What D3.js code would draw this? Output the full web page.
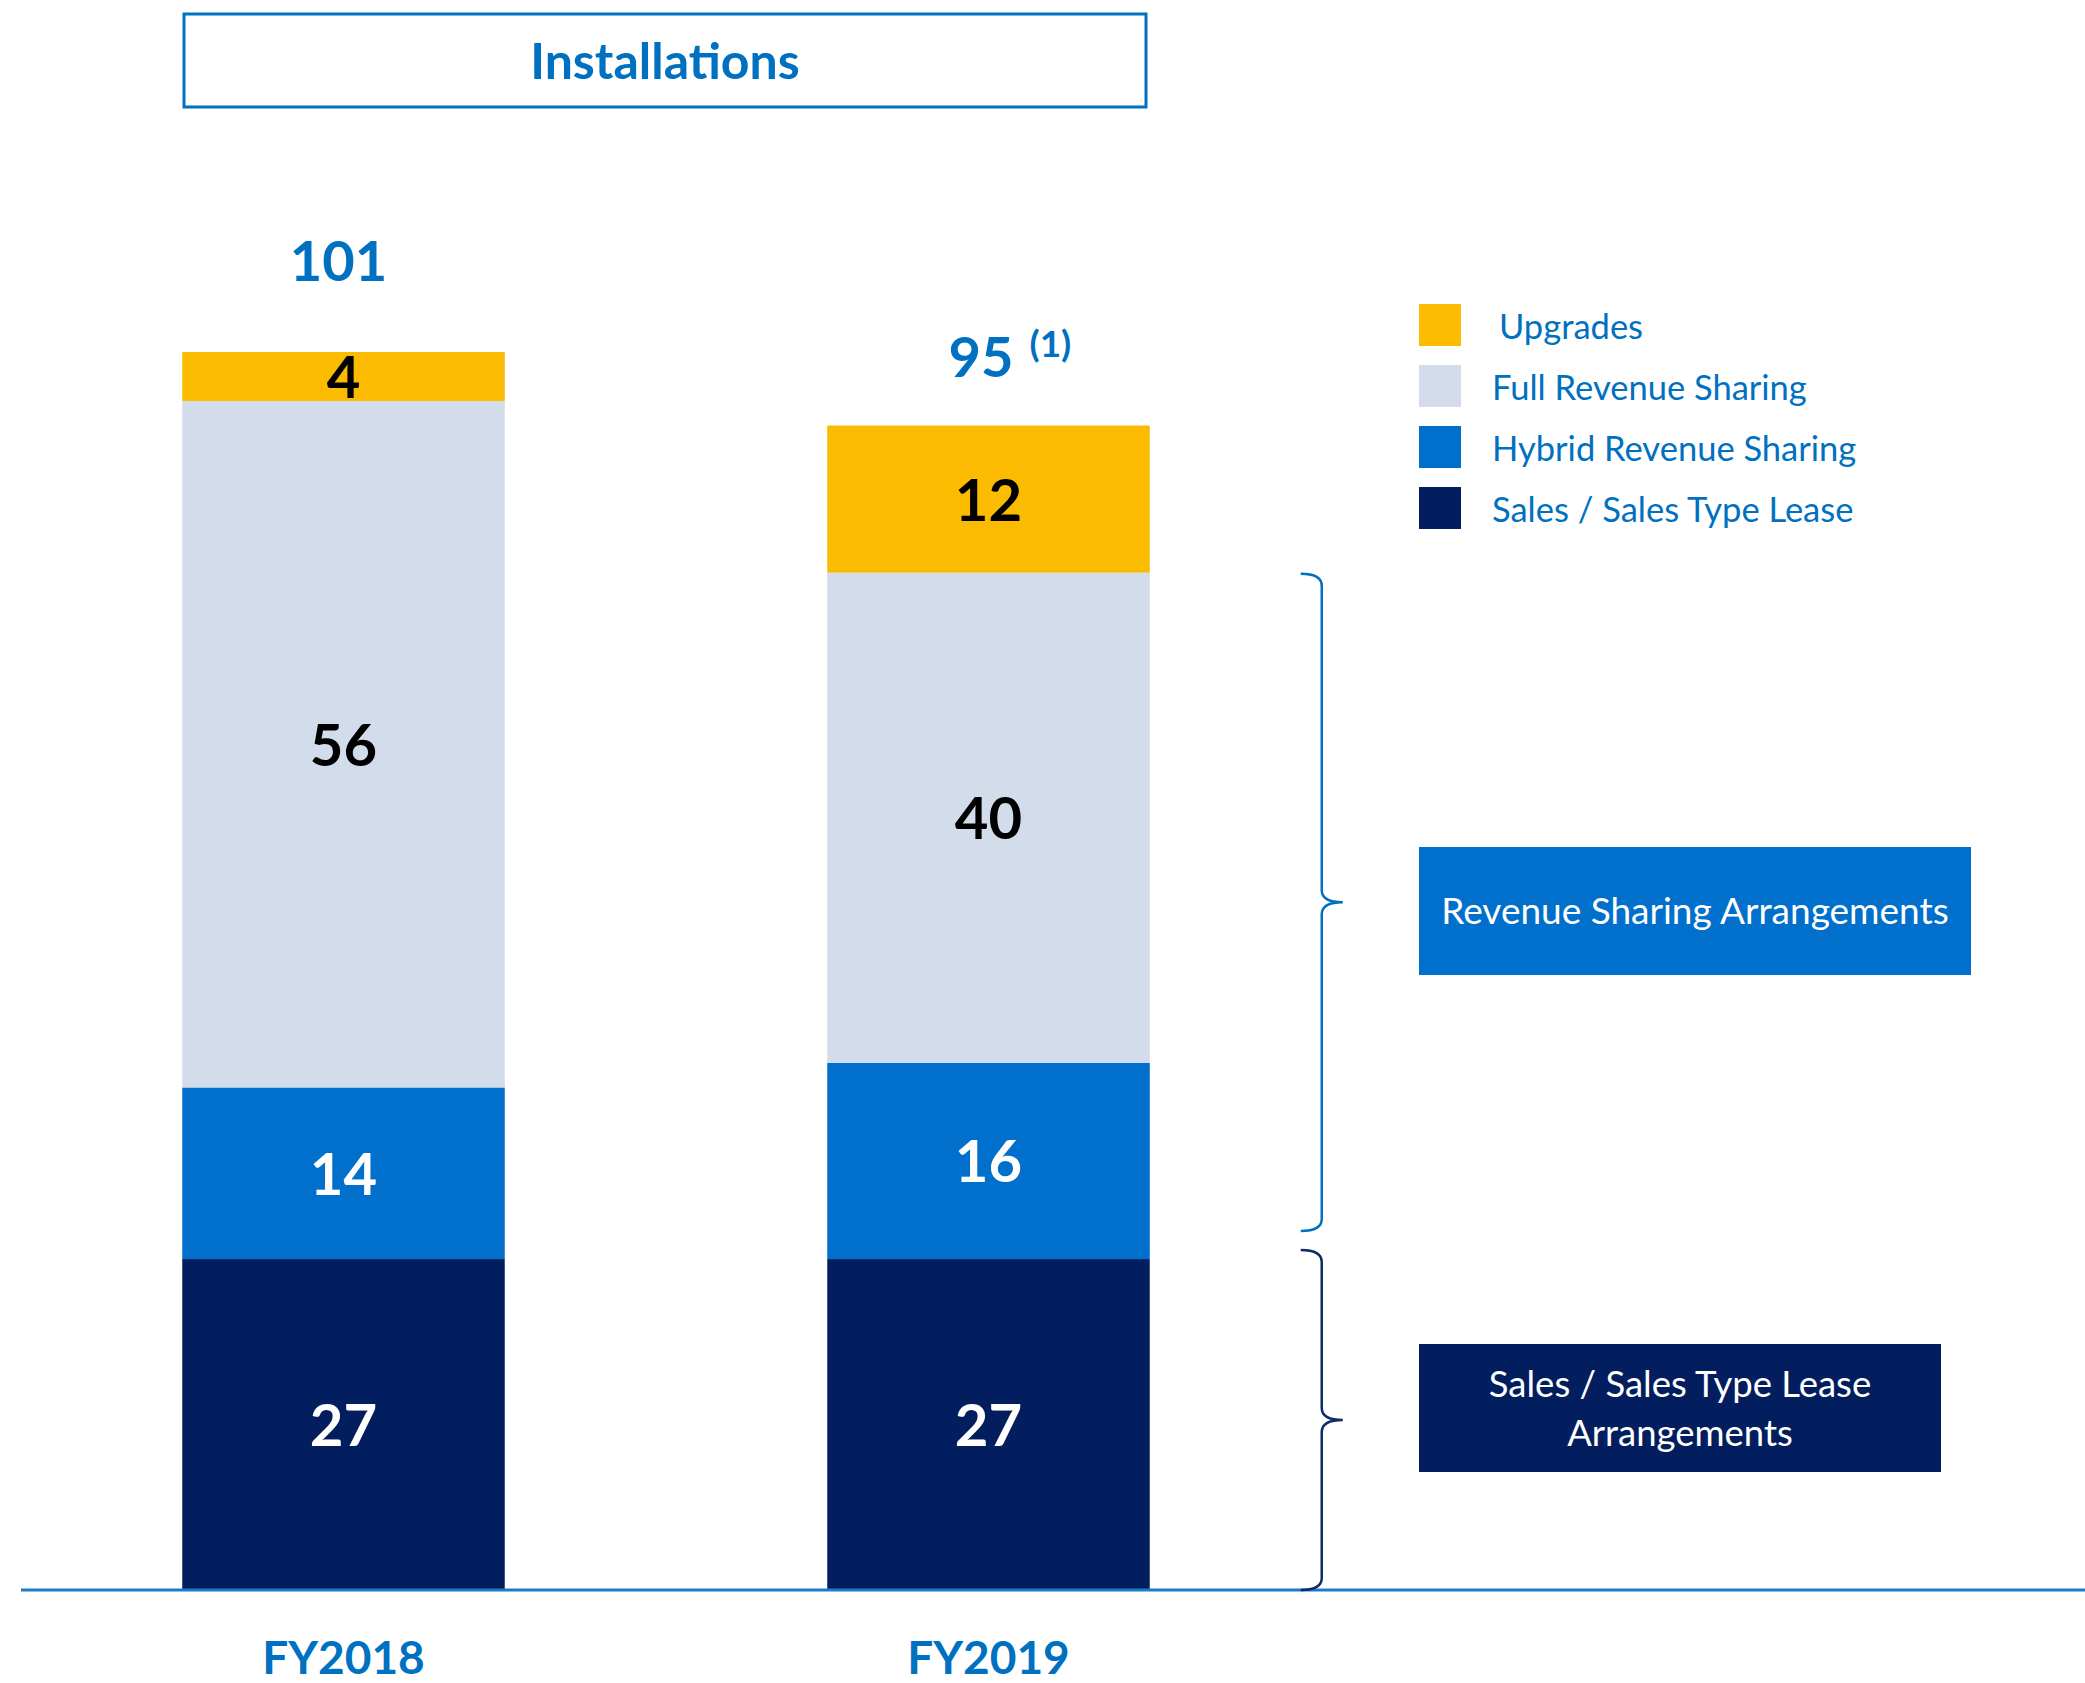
<!DOCTYPE html>
<html>
<head>
<meta charset="utf-8">
<script src="https://cdn.jsdelivr.net/npm/d3@7"></script>
<style>
  body { margin: 0; background: #fff; }
  text { font-family: Lato, "Open Sans", sans-serif; }
</style>
</head>
<body>
<div id="chart"></div>
<script>
// data
const categories = ["FY2018", "FY2019"];
const salesLease = [27, 27];
const hybridRev = [14, 16];
const fullRev = [56, 40];
const upgrades = [4, 12];

const seriesKeys = ["Sales / Sales Type Lease", "Hybrid Revenue Sharing", "Full Revenue Sharing", "Upgrades"];
const seriesValues = [salesLease, hybridRev, fullRev, upgrades];
const legendOrder = ["Upgrades", "Full Revenue Sharing", "Hybrid Revenue Sharing", "Sales / Sales Type Lease"];

// styles
const width = 2085, height = 1683;
const blue = "#0070C0";
const colors = {
  "Upgrades": "#FABB00",
  "Full Revenue Sharing": "#D2DCEB",
  "Hybrid Revenue Sharing": "#0070CC",
  "Sales / Sales Type Lease": "#021E5F"
};
const labelColors = {
  "Upgrades": "#000",
  "Full Revenue Sharing": "#000",
  "Hybrid Revenue Sharing": "#fff",
  "Sales / Sales Type Lease": "#fff"
};

// build table for d3.stack
const table = categories.map((c, i) => {
  const row = {category: c};
  seriesKeys.forEach((k, j) => row[k] = seriesValues[j][i]);
  return row;
});
const totals = table.map(r => d3.sum(seriesKeys, k => r[k]));

const stacked = d3.stack().keys(seriesKeys)(table);

const svg = d3.select("#chart")
  .append("svg")
  .attr("width", width)
  .attr("height", height);

const x = d3.scaleBand()
  .domain(categories)
  .range([21, 1311])
  .paddingInner(0.5)
  .paddingOuter(0.25);

const y = d3.scaleLinear()
  .domain([0, 101])
  .range([1590, 352]);

// title box
svg.append("rect")
  .attr("x", 184).attr("y", 14)
  .attr("width", 962).attr("height", 93)
  .attr("fill", "none")
  .attr("stroke", blue)
  .attr("stroke-width", 3);

svg.append("text")
  .attr("x", 665).attr("y", 79)
  .attr("text-anchor", "middle")
  .attr("fill", blue)
  .attr("font-size", 50)
  .attr("font-weight", "bold")
  .text("Installations");

// bars
const layers = svg.append("g")
  .selectAll("g")
  .data(stacked)
  .join("g")
  .attr("fill", d => colors[d.key]);

layers.selectAll("rect")
  .data(d => d.map(v => Object.assign(v, {key: d.key})))
  .join("rect")
  .attr("x", d => x(d.data.category))
  .attr("y", d => y(d[1]))
  .attr("width", x.bandwidth())
  .attr("height", d => y(d[0]) - y(d[1]));

// segment labels
layers.selectAll("text")
  .data(d => d)
  .join("text")
  .attr("x", d => x(d.data.category) + x.bandwidth() / 2)
  .attr("y", d => (y(d[0]) + y(d[1])) / 2)
  .attr("dy", "0.37em")
  .attr("text-anchor", "middle")
  .attr("font-size", 58)
  .attr("font-weight", "bold")
  .attr("fill", d => labelColors[d.key])
  .text(d => d[1] - d[0]);

// baseline
svg.append("line")
  .attr("x1", 21).attr("x2", width)
  .attr("y1", y(0)).attr("y2", y(0))
  .attr("stroke", "#1C7CC8")
  .attr("stroke-width", 3);

// category labels
svg.append("g")
  .selectAll("text")
  .data(categories)
  .join("text")
  .attr("x", d => x(d) + x.bandwidth() / 2)
  .attr("y", 1674)
  .attr("text-anchor", "middle")
  .attr("font-size", 46)
  .attr("font-weight", "bold")
  .attr("fill", blue)
  .text(d => d);

// totals
const totalLift = [71, 49];
const totalLabels = svg.append("g")
  .selectAll("text")
  .data(categories)
  .join("text")
  .attr("x", (d, i) => x(d) + x.bandwidth() / 2 - 5)
  .attr("y", (d, i) => y(totals[i]) - totalLift[i])
  .attr("text-anchor", (d, i) => i === 0 ? "middle" : "start")
  .attr("dx", (d, i) => i === 0 ? 0 : -35)
  .attr("font-size", 56)
  .attr("font-weight", "bold")
  .attr("fill", blue);

totalLabels.append("tspan").text((d, i) => totals[i]);
totalLabels.filter((d, i) => i === 1)
  .append("tspan")
  .attr("dx", 16)
  .attr("dy", -20)
  .attr("font-size", 37)
  .text("(1)");

// legend
const legend = svg.append("g")
  .selectAll("g")
  .data(legendOrder)
  .join("g")
  .attr("transform", (d, i) => `translate(1419, ${304 + i * 61})`);

legend.append("rect")
  .attr("width", 42)
  .attr("height", 42)
  .attr("fill", d => colors[d]);

legend.append("text")
  .attr("x", (d, i) => i === 0 ? 80 : 73)
  .attr("y", 35)
  .attr("font-size", 34.5)
  .attr("fill", blue)
  .text(d => d);

// braces
function brace(xb, y0, y1, w) {
  const ym = (y0 + y1) / 2;
  const r = 12;
  return `M${xb - w},${y0} Q${xb},${y0} ${xb},${y0 + r}` +
    ` L${xb},${ym - r} Q${xb},${ym} ${xb + w},${ym}` +
    ` Q${xb},${ym} ${xb},${ym + r}` +
    ` L${xb},${y1 - r} Q${xb},${y1} ${xb - w},${y1}`;
}

const braceX = x("FY2019") + x.bandwidth() + 172;
const revTop = y(salesLease[1] + hybridRev[1] + fullRev[1]) + 1;
const revBottom = y(salesLease[1]) - 28;
const salesTop = y(salesLease[1]) - 9;
const salesBottom = y(0);

svg.append("path")
  .attr("d", brace(braceX, revTop, revBottom, 21))
  .attr("fill", "none")
  .attr("stroke", blue)
  .attr("stroke-width", 2.5);

svg.append("path")
  .attr("d", brace(braceX, salesTop, salesBottom, 21))
  .attr("fill", "none")
  .attr("stroke", "#0E2A68")
  .attr("stroke-width", 2.5);

// annotation boxes
svg.append("rect")
  .attr("x", 1419).attr("y", 847)
  .attr("width", 552).attr("height", 128)
  .attr("fill", "#0070CC");

svg.append("text")
  .attr("x", 1695).attr("y", 924)
  .attr("text-anchor", "middle")
  .attr("font-size", 37)
  .attr("fill", "#fff")
  .text("Revenue Sharing Arrangements");

svg.append("rect")
  .attr("x", 1419).attr("y", 1344)
  .attr("width", 522).attr("height", 128)
  .attr("fill", "#021E5F");

const salesBoxText = svg.append("text")
  .attr("text-anchor", "middle")
  .attr("font-size", 36.5)
  .attr("fill", "#fff");
salesBoxText.append("tspan").attr("x", 1680).attr("y", 1397).text("Sales / Sales Type Lease");
salesBoxText.append("tspan").attr("x", 1680).attr("y", 1446).text("Arrangements");
</script>
</body>
</html>
